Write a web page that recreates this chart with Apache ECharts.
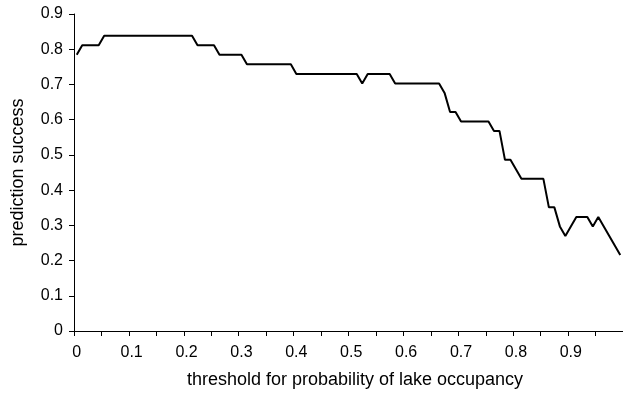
<!DOCTYPE html>
<html>
<head>
<meta charset="utf-8">
<script src="https://cdn.jsdelivr.net/npm/echarts@6/dist/echarts.min.js"></script>
<style>html,body{margin:0;padding:0;background:#fff}#c{width:623px;height:394px}</style>
</head>
<body>
<div id="c"></div>
<script>
var thresholds = [
  0, 0.01, 0.02, 0.03, 0.04, 0.05, 0.06, 0.07, 0.08, 0.09,
  0.1, 0.11, 0.12, 0.13, 0.14, 0.15, 0.16, 0.17, 0.18, 0.19,
  0.2, 0.21, 0.22, 0.23, 0.24, 0.25, 0.26, 0.27, 0.28, 0.29,
  0.3, 0.31, 0.32, 0.33, 0.34, 0.35, 0.36, 0.37, 0.38, 0.39,
  0.4, 0.41, 0.42, 0.43, 0.44, 0.45, 0.46, 0.47, 0.48, 0.49,
  0.5, 0.51, 0.52, 0.53, 0.54, 0.55, 0.56, 0.57, 0.58, 0.59,
  0.6, 0.61, 0.62, 0.63, 0.64, 0.65, 0.66, 0.67, 0.68, 0.69,
  0.7, 0.71, 0.72, 0.73, 0.74, 0.75, 0.76, 0.77, 0.78, 0.79,
  0.8, 0.81, 0.82, 0.83, 0.84, 0.85, 0.86, 0.87, 0.88, 0.89,
  0.9, 0.91, 0.92, 0.93, 0.94, 0.95, 0.96, 0.97, 0.98, 0.99
];
var predictionSuccess = [
  0.784, 0.811, 0.811, 0.811, 0.811, 0.838, 0.838, 0.838, 0.838, 0.838,
  0.838, 0.838, 0.838, 0.838, 0.838, 0.838, 0.838, 0.838, 0.838, 0.838,
  0.838, 0.838, 0.811, 0.811, 0.811, 0.811, 0.784, 0.784, 0.784, 0.784,
  0.784, 0.757, 0.757, 0.757, 0.757, 0.757, 0.757, 0.757, 0.757, 0.757,
  0.730, 0.730, 0.730, 0.730, 0.730, 0.730, 0.730, 0.730, 0.730, 0.730,
  0.730, 0.730, 0.703, 0.730, 0.730, 0.730, 0.730, 0.730, 0.703, 0.703,
  0.703, 0.703, 0.703, 0.703, 0.703, 0.703, 0.703, 0.676, 0.622, 0.622,
  0.595, 0.595, 0.595, 0.595, 0.595, 0.595, 0.568, 0.568, 0.486, 0.486,
  0.459, 0.432, 0.432, 0.432, 0.432, 0.432, 0.351, 0.351, 0.297, 0.270,
  0.297, 0.324, 0.324, 0.324, 0.297, 0.324, 0.297, 0.270, 0.243, 0.216
];
var xTitle = 'threshold for probability of lake occupancy';
var yTitle = 'prediction success';

var FONT = '"Liberation Sans", Arial, sans-serif';
var chart = echarts.init(document.getElementById('c'), null, {renderer: 'canvas'});
chart.setOption({
  animation: false,
  backgroundColor: '#fff',
  grid: {left: 74, top: 14, width: 550, height: 318},
  xAxis: {
    type: 'category',
    data: thresholds,
    boundaryGap: true,
    name: xTitle,
    nameLocation: 'middle',
    nameGap: 40,
    nameTextStyle: {fontFamily: FONT, fontSize: 18, color: '#000', padding: [0, 0, 0, 13]},
    axisLine: {lineStyle: {color: '#000', width: 1}},
    axisTick: {show: true, interval: 4, alignWithLabel: false, length: 5, lineStyle: {color: '#000'}},
    axisLabel: {interval: 9, margin: 14, fontFamily: FONT, fontSize: 16, color: '#000'},
    splitLine: {show: false}
  },
  yAxis: {
    type: 'value',
    min: 0, max: 0.9, interval: 0.1,
    name: yTitle,
    nameLocation: 'middle',
    nameGap: 47,
    nameRotate: 90,
    nameTextStyle: {fontFamily: FONT, fontSize: 18, color: '#000'},
    axisLine: {show: true, lineStyle: {color: '#000', width: 1}},
    axisTick: {show: true, length: 5, lineStyle: {color: '#000'}},
    axisLabel: {margin: 11, fontFamily: FONT, fontSize: 16, color: '#000'},
    splitLine: {show: false}
  },
  series: [{
    type: 'line',
    data: predictionSuccess,
    showSymbol: false,
    symbol: 'none',
    lineStyle: {color: '#000', width: 2},
    clip: false
  }]
});
</script>
</body>
</html>
